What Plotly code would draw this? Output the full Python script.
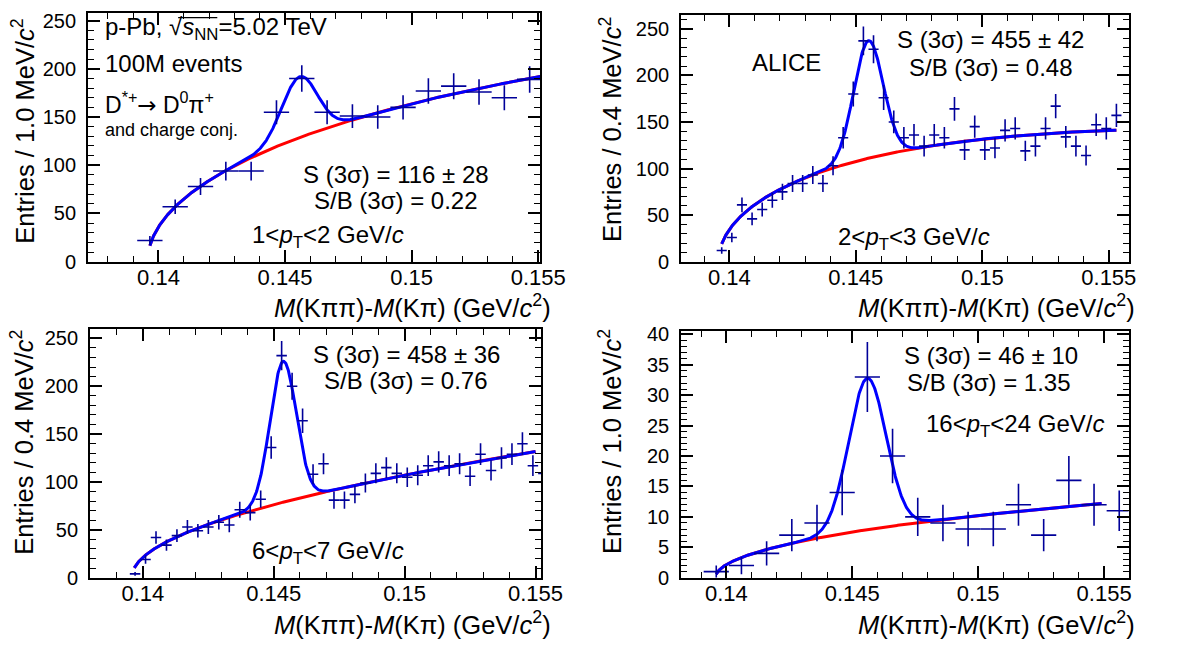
import numpy as np
import plotly.graph_objects as go

W, H = 1179, 648
FONT = "Liberation Sans, Arial, sans-serif"

# ---------------- data ----------------
# Panel 1: 1<pT<2 GeV/c, 1.0 MeV bins
p1_x = [0.13966, 0.14066, 0.14166, 0.14266, 0.14366, 0.14466, 0.14566, 0.14666,
        0.14766, 0.14866, 0.14966, 0.15066, 0.15166, 0.15266, 0.15366, 0.15466]
p1_y = [22, 57, 78, 94, 94, 155, 190, 155, 151, 150, 160, 177, 182, 176, 170, 189]
p1_halfbin = 0.0005

# Panel 2: 2<pT<3 GeV/c, 0.4 MeV bins
p2_x = [0.1397, 0.1401, 0.1405, 0.1409, 0.1413, 0.1417, 0.1421, 0.1425, 0.1429, 0.1433,
        0.1437, 0.1441, 0.1445, 0.1449, 0.1453, 0.1457, 0.1461, 0.1465, 0.1469, 0.1473,
        0.1477, 0.1481, 0.1485, 0.1489, 0.1493, 0.1497, 0.1501, 0.1505, 0.1509, 0.1513,
        0.1517, 0.1521, 0.1525, 0.1529, 0.1533, 0.1537, 0.1541, 0.1545, 0.1549, 0.1553]
p2_y = [12, 26, 61, 46, 56, 66, 75, 84, 84, 93, 84, 103, 133, 180, 237, 228, 176, 150, 133, 136,
        124, 136, 133, 164, 120, 145, 120, 122, 141, 143, 119, 124, 143, 167, 134, 124, 114, 147, 143, 157]
p2_halfbin = 0.0002

# Panel 3: 6<pT<7 GeV/c, 0.4 MeV bins
p3_x = [0.1397, 0.1401, 0.1405, 0.1409, 0.1413, 0.1417, 0.1421, 0.1425, 0.1429, 0.1433,
        0.1437, 0.1441, 0.1445, 0.1449, 0.1453, 0.1457, 0.1461, 0.1465, 0.1469, 0.1473,
        0.1477, 0.1481, 0.1485, 0.1489, 0.1493, 0.1497, 0.1501, 0.1505, 0.1509, 0.1513,
        0.1517, 0.1521, 0.1525, 0.1529, 0.1533, 0.1537, 0.1541, 0.1545, 0.1549, 0.1553]
p3_y = [4, 19, 42, 34, 44, 53, 49, 53, 58, 55, 71, 68, 82, 136, 232, 200, 164, 108, 119, 81,
        81, 87, 99, 109, 115, 109, 105, 107, 117, 121, 117, 119, 106, 129, 112, 125, 129, 140, 117, 109]
p3_halfbin = 0.0002

# Panel 4: 16<pT<24 GeV/c, 1.0 MeV bins
p4_x = [0.1396, 0.1406, 0.1416, 0.1426, 0.1436, 0.1446, 0.1456, 0.1466, 0.1476,
        0.1486, 0.1496, 0.1506, 0.1516, 0.1526, 0.1536, 0.1546, 0.1556]
p4_y = [1, 2, 4, 7, 9, 14, 33, 20, 10, 9, 8, 8, 12, 7, 16, 12, 11]
p4_halfbin = 0.0005

# Fit parameters: background A*sqrt(x-x0)*exp(B*(x-x0)), Gaussian (mean, sigma, amp), fit range
fit_A = [1742, 1676, 1023, 103.8]
fit_B = [-7.9, -25.3, 2.4, -3.5]
fit_x0 = [0.13957, 0.13957, 0.13957, 0.13957]
fit_mean = [0.14557, 0.14550, 0.14536, 0.14560]
fit_sigma = [0.00070, 0.00058, 0.00050, 0.00074]
fit_amp = [63, 126, 147, 24.9]
fit_xmin = [0.13966, 0.1397, 0.13967, 0.1396]
fit_xmax = [0.15508, 0.1553, 0.1550, 0.1549]

x_tickvals = [0.14, 0.145, 0.15, 0.155]
x_ticktext = ["0.14", "0.145", "0.15", "0.155"]

texts_sig = ["S (3σ) = 116 ± 28", "S (3σ) = 455 ± 42", "S (3σ) = 458 ± 36", "S (3σ) = 46 ± 10"]
texts_sb = ["S/B (3σ) = 0.22", "S/B (3σ) = 0.48", "S/B (3σ) = 0.76", "S/B (3σ) = 1.35"]
texts_pt = ["1<<i>p</i><sub>T</sub><2 GeV/<i>c</i>", "2<<i>p</i><sub>T</sub><3 GeV/<i>c</i>",
            "6<<i>p</i><sub>T</sub><7 GeV/<i>c</i>", "16<<i>p</i><sub>T</sub><24 GeV/<i>c</i>"]
ytitles = ["Entries / 1.0 MeV/<i>c</i><sup>2</sup>", "Entries / 0.4 MeV/<i>c</i><sup>2</sup>",
           "Entries / 0.4 MeV/<i>c</i><sup>2</sup>", "Entries / 1.0 MeV/<i>c</i><sup>2</sup>"]
xtitle = "<i>M</i>(Kππ)-<i>M</i>(Kπ) (GeV/<i>c</i><sup>2</sup>)"

# ---------------- layout geometry (pixels) ----------------
frames = [  # x0, x1, ytop, ybottom
    (90, 552, 6, 262),
    (696, 1153, 8, 262),
    (92, 553, 331, 587),
    (696, 1153, 333, 587),
]
xranges = [[0.13722, 0.15508], [0.1381, 0.15578], [0.13798, 0.15522], [0.13821, 0.15597]]
yranges = [[0, 258], [0, 265], [0, 260], [0, 40.6]]
ydticks = [50, 50, 50, 5]
yminor = [10, 10, 10, 1]

datasets = [(p1_x, p1_y, p1_halfbin), (p2_x, p2_y, p2_halfbin),
            (p3_x, p3_y, p3_halfbin), (p4_x, p4_y, p4_halfbin)]

fig = go.Figure()

for i in range(4):
    xa = "x" if i == 0 else f"x{i+1}"
    ya = "y" if i == 0 else f"y{i+1}"
    xs = np.linspace(fit_xmin[i], fit_xmax[i], 800)
    d = xs - fit_x0[i]
    bkg = fit_A[i] * np.sqrt(d) * np.exp(fit_B[i] * d)
    sig = fit_amp[i] * np.exp(-0.5 * ((xs - fit_mean[i]) / fit_sigma[i]) ** 2)
    fig.add_trace(go.Scatter(x=xs, y=bkg, mode="lines", line=dict(color="#ff0000", width=3),
                             xaxis=xa, yaxis=ya, hoverinfo="skip"))
    fig.add_trace(go.Scatter(x=xs, y=bkg + sig, mode="lines", line=dict(color="#0000ff", width=3),
                             xaxis=xa, yaxis=ya, hoverinfo="skip"))
    px_, py_, hb = datasets[i]
    yy = np.array(py_, dtype=float)
    fig.add_trace(go.Scatter(
        x=px_, y=py_, mode="markers", marker=dict(size=1, color="#000099"),
        error_x=dict(type="constant", value=hb, color="#000099", thickness=1.6, width=0),
        error_y=dict(type="data", array=np.sqrt(yy), color="#000099", thickness=1.6, width=0),
        xaxis=xa, yaxis=ya))

layout = dict(width=W, height=H, margin=dict(l=0, r=0, t=0, b=0),
              paper_bgcolor="white", plot_bgcolor="white", showlegend=False,
              font=dict(family=FONT, color="black"))

for i in range(4):
    x0, x1, yt, yb = frames[i]
    xk = "xaxis" if i == 0 else f"xaxis{i+1}"
    yk = "yaxis" if i == 0 else f"yaxis{i+1}"
    ya = "y" if i == 0 else f"y{i+1}"
    xa = "x" if i == 0 else f"x{i+1}"
    layout[xk] = dict(domain=[x0 / W, x1 / W], range=xranges[i], anchor=ya,
                      showline=True, linecolor="black", linewidth=2, mirror="allticks",
                      ticks="inside", ticklen=12, tickwidth=1.5, tickcolor="black",
                      tickmode="array", tickvals=x_tickvals, ticktext=x_ticktext,
                      tickfont=dict(family=FONT, size=22, color="black"),
                      showgrid=False, zeroline=False, ticklabelstandoff=-5,
                      minor=dict(ticks="inside", ticklen=6, tickwidth=1.2, tickcolor="black",
                                 tick0=0.14, dtick=0.001, showgrid=False))
    layout[yk] = dict(domain=[1 - yb / H, 1 - yt / H], range=yranges[i], anchor=xa,
                      showline=True, linecolor="black", linewidth=2, mirror="allticks",
                      ticks="inside", ticklen=12, tickwidth=1.5, tickcolor="black",
                      tick0=0, dtick=ydticks[i],
                      tickfont=dict(family=FONT, size=20, color="black"),
                      showgrid=False, zeroline=False, ticklabelstandoff=6,
                      minor=dict(ticks="inside", ticklen=6, tickwidth=1.2, tickcolor="black",
                                 tick0=0, dtick=yminor[i], showgrid=False))

fig.update_layout(**layout)


def ann(text, px, py, xanchor="center", yanchor="middle", size=24, angle=0):
    fig.add_annotation(text=text, x=px / W, y=1 - py / H, xref="paper", yref="paper",
                       xanchor=xanchor, yanchor=yanchor, showarrow=False, textangle=angle,
                       borderpad=0, font=dict(family=FONT, size=size, color="black"))


# Panel text
sig_pos = [(405, 172), (1012, 33), (415, 357), (1012, 358)]
sb_pos = [(405, 199), (1012, 62), (415, 384), (1010, 386)]
pt_pos = [(335, 236), (934, 238), (335, 561), (1037, 430)]
for i in range(4):
    ann(texts_sig[i], *sig_pos[i])
    ann(texts_sb[i], *sb_pos[i])
    ann(texts_pt[i], *pt_pos[i])

ann("p-Pb, √<i>s</i><sub>NN</sub>=5.02 TeV", 106, 22, xanchor="left")
fig.add_shape(type="line", xref="paper", yref="paper", x0=182 / W, x1=222 / W,
              y0=1 - 11 / H, y1=1 - 11 / H, line=dict(color="black", width=1.3))
ann("100M events", 106, 58, xanchor="left")
ann("D<sup>*+</sup><span style='font-family:DejaVu Sans'>→</span> D<sup>0</sup>π<sup>+</sup>",
    106, 99, xanchor="left", size=23)
ann("and charge conj.", 106, 127, xanchor="left", size=18)
ann("ALICE", 804, 57)

# axis titles
ytitle_pos = [(24, 11), (624, 9), (23, 331), (624, 330)]
for i in range(4):
    ann(ytitles[i], ytitle_pos[i][0], ytitle_pos[i][1], xanchor="center", yanchor="top", size=25.5, angle=-90)
xtitle_pos = [(564, 308), (1161, 308), (564, 634), (1161, 634)]
for i in range(4):
    ann(xtitle, xtitle_pos[i][0], xtitle_pos[i][1], xanchor="right", size=25.5)

fig.write_html("out.html")
